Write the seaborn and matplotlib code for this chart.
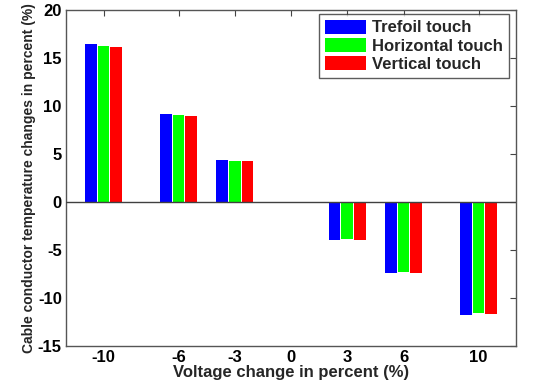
import matplotlib
matplotlib.use("Agg")
import matplotlib.pyplot as plt
import seaborn as sns
import pandas as pd

voltage = [-10, -6, -3, 0, 3, 6, 10]
trefoil = [16.5, 9.15, 4.42, 0.0, -3.92, -7.43, -11.8]
horizontal = [16.3, 9.03, 4.31, 0.04, -3.82, -7.33, -11.6]
vertical = [16.1, 8.96, 4.31, 0.04, -3.92, -7.43, -11.7]
series = ["Trefoil touch", "Horizontal touch", "Vertical touch"]
colors = ["#0000ff", "#00ff00", "#ff0000"]

rows = []
for name, vals in zip(series, [trefoil, horizontal, vertical]):
    for v, t in zip(voltage, vals):
        rows.append({"voltage": v, "temp": t, "config": name})
df = pd.DataFrame(rows)

sns.set_style("white")
plt.rcParams["font.family"] = ["Liberation Sans", "DejaVu Sans"]
plt.rcParams["font.weight"] = "bold"
plt.rcParams["axes.unicode_minus"] = False

fig = plt.figure(figsize=(5.45, 3.83), dpi=100)
ax = fig.add_axes([66 / 545, 1 - 346 / 383, 450 / 545, 336 / 383])

sns.barplot(data=df, x="voltage", y="temp", hue="config", hue_order=series,
            palette=colors, native_scale=True, width=0.67, gap=0.08,
            saturation=1, errorbar=None, ax=ax, edgecolor="none")

ax.axhline(0, color="#404040", lw=1.0, zorder=5)
ax.set_xlim(-12, 12)
ax.set_ylim(-15, 20)
ax.set_xticks(voltage)
ax.set_xticklabels([str(v) for v in voltage])
ax.set_yticks(range(-15, 21, 5))
ax.tick_params(direction="in", length=4, width=0.8, top=True, right=True,
               labelsize=12, colors="#444444", pad=3)
for lab in ax.get_xticklabels() + ax.get_yticklabels():
    lab.set_fontweight("bold")
    lab.set_color("black")
for s in ax.spines.values():
    s.set_color("#555555")
    s.set_linewidth(1.0)
ax.set_xlabel("Voltage change in percent (%)", fontsize=12, fontweight="bold", labelpad=0)
ax.set_ylabel("Cable conductor temperature changes in percent (%)", fontsize=10,
              fontweight="bold", labelpad=1)

leg = ax.legend(loc="upper right", bbox_to_anchor=(1.0 - 7 / 450, 1.0 - 4 / 336),
                fontsize=12, frameon=True, fancybox=False, handlelength=2.5,
                handleheight=0.9, handletextpad=0.35, borderpad=0.35, labelspacing=0.15,
                borderaxespad=0)
leg.get_frame().set_edgecolor("#333333")
leg.get_frame().set_linewidth(1.0)
for t in leg.get_texts():
    t.set_fontweight("bold")

fig.savefig("out.png", dpi=100)
